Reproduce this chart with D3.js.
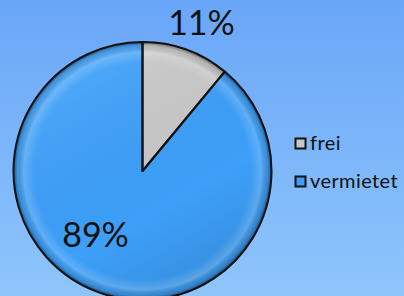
<!DOCTYPE html>
<html>
<head>
<meta charset="utf-8">
<script src="https://cdn.jsdelivr.net/npm/d3@7"></script>
<style>
  html, body { margin: 0; padding: 0; }
  body { width: 404px; height: 296px; overflow: hidden; }
  text { font-family: Lato, "Noto Sans", sans-serif; }
</style>
</head>
<body>
<svg id="chart" width="404" height="296"></svg>
<script>
var categories = ["frei", "vermietet"];
var values = [11, 89];
var labels = ["11%", "89%"];
var colors = ["#c8c8c8", "#3d9ff8"];

var svg = d3.select("#chart");
var defs = svg.append("defs");

var cx = 142.5, cy = 171, radius = 129;

// background
var bg = defs.append("linearGradient").attr("id", "bg")
    .attr("x1", 0).attr("y1", 0).attr("x2", 0).attr("y2", 1);
bg.append("stop").attr("offset", "0%").attr("stop-color", "#6aa6f8");
bg.append("stop").attr("offset", "100%").attr("stop-color", "#8ec5fb");
svg.append("rect").attr("width", 404).attr("height", 296).attr("fill", "url(#bg)");

// rim shading for the bevel look (same for every slice)
var rim = defs.append("radialGradient").attr("id", "rim")
    .attr("gradientUnits", "userSpaceOnUse")
    .attr("cx", 0).attr("cy", 0).attr("r", radius);
rim.append("stop").attr("offset", "0%").attr("stop-color", "#fff").attr("stop-opacity", 0);
rim.append("stop").attr("offset", "84%").attr("stop-color", "#fff").attr("stop-opacity", 0);
rim.append("stop").attr("offset", "92%").attr("stop-color", "#fff").attr("stop-opacity", 0.18);
rim.append("stop").attr("offset", "97%").attr("stop-color", "#000").attr("stop-opacity", 0.1);
rim.append("stop").attr("offset", "100%").attr("stop-color", "#000").attr("stop-opacity", 0.45);

// darker towards the bottom right
var shade = defs.append("linearGradient").attr("id", "shade")
    .attr("gradientUnits", "userSpaceOnUse")
    .attr("x1", -radius * 0.5).attr("y1", -radius * 0.7)
    .attr("x2", radius * 0.5).attr("y2", radius);
shade.append("stop").attr("offset", "0%").attr("stop-color", "#fff").attr("stop-opacity", 0.08);
shade.append("stop").attr("offset", "60%").attr("stop-color", "#000").attr("stop-opacity", 0);
shade.append("stop").attr("offset", "100%").attr("stop-color", "#000").attr("stop-opacity", 0.12);

var pie = d3.pie().sort(null).value(function(d) { return d; });
var arc = d3.arc().innerRadius(0).outerRadius(radius);
var arcs = pie(values);

var g = svg.append("g").attr("transform", "translate(" + cx + "," + cy + ")");

g.selectAll("path.slice")
    .data(arcs)
    .enter()
    .append("path")
    .attr("class", "slice")
    .attr("d", arc)
    .attr("fill", function(d, i) { return colors[i]; });

g.selectAll("path.shade")
    .data(arcs)
    .enter()
    .append("path")
    .attr("class", "shade")
    .attr("d", arc)
    .attr("fill", "url(#shade)");

// bevel overlay + outline
g.selectAll("path.bevel")
    .data(arcs)
    .enter()
    .append("path")
    .attr("class", "bevel")
    .attr("d", arc)
    .attr("fill", "url(#rim)")
    .attr("stroke", "#111")
    .attr("stroke-width", 2)
    .attr("stroke-linejoin", "round");

// percentage labels
g.selectAll("text.pct")
    .data(arcs)
    .enter()
    .append("text")
    .attr("class", "pct")
    .attr("x", function(d, i) { return i == 0 ? 59 : -47; })
    .attr("y", function(d, i) { return i == 0 ? -136 : 76; })
    .attr("text-anchor", "middle")
    .attr("font-size", 34)
    .attr("fill", "#111")
    .text(function(d, i) { return labels[i]; });

// legend
var legend = svg.append("g").attr("transform", "translate(295,138)");
var item = legend.selectAll("g")
    .data(categories)
    .enter()
    .append("g")
    .attr("transform", function(d, i) { return "translate(0," + (i * 38) + ")"; });
item.append("rect")
    .attr("x", 0.5).attr("y", 0.5)
    .attr("width", 10).attr("height", 10)
    .attr("fill", function(d, i) { return colors[i]; })
    .attr("stroke", "#111").attr("stroke-width", 2);
item.append("text")
    .attr("x", 15).attr("y", 12)
    .attr("font-size", 20)
    .attr("letter-spacing", 0.4)
    .attr("fill", "#111")
    .text(function(d) { return d; });
</script>
</body>
</html>
